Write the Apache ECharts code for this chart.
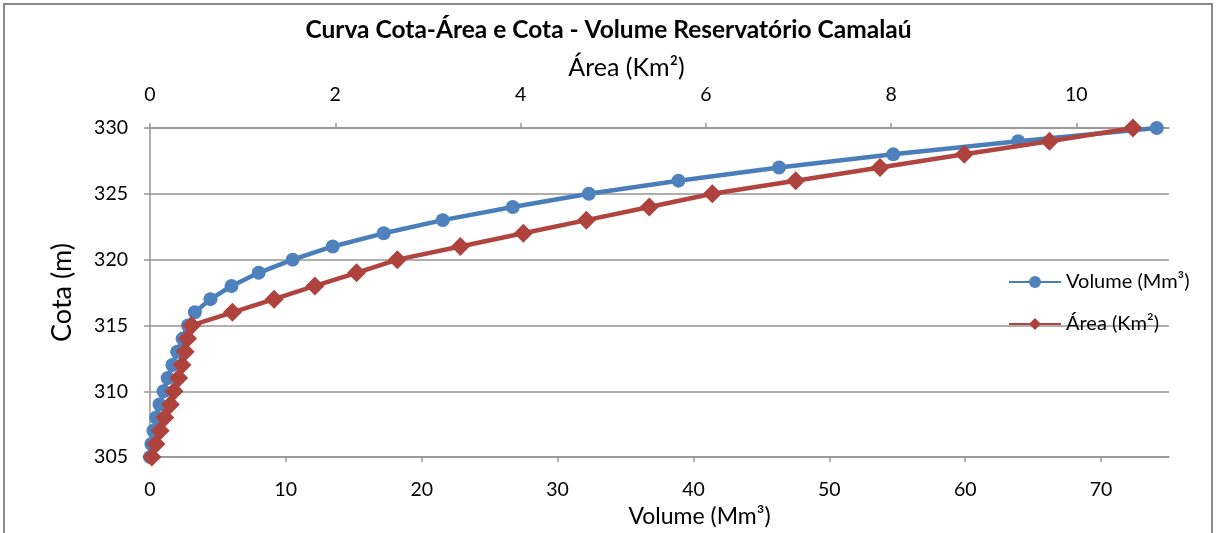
<!DOCTYPE html>
<html>
<head>
<meta charset="utf-8">
<script src="https://cdn.jsdelivr.net/npm/echarts@6/dist/echarts.min.js"></script>
<style>
  html, body { margin: 0; padding: 0; background: #ffffff; }
  #chart { width: 1217px; height: 533px; }
</style>
</head>
<body>
<div id="chart"></div>
<script>
// Reservoir elevation (m) and the matching stored volume and flooded area
const cota = [305, 306, 307, 308, 309, 310, 311, 312, 313, 314, 315, 316, 317,
              318, 319, 320, 321, 322, 323, 324, 325, 326, 327, 328, 329, 330];
const volume = [0, 0.1, 0.25, 0.45, 0.7, 1.0, 1.3, 1.65, 2.0, 2.4, 2.8, 3.3, 4.45,
                6.0, 8.0, 10.5, 13.45, 17.2, 21.55, 26.7, 32.3, 38.9, 46.3, 54.7, 63.9, 74.1];
const area = [0.02, 0.065, 0.11, 0.16, 0.22, 0.26, 0.31, 0.345, 0.38, 0.405, 0.45, 0.89, 1.34,
              1.78, 2.23, 2.67, 3.35, 4.03, 4.71, 5.39, 6.07, 6.97, 7.88, 8.79, 9.71, 10.61];

// Axis ranges
const volumeRange = { min: 0, max: 75, step: 10 };
const areaRange = { min: 0, max: 11, step: 2 };
const cotaRange = { min: 305, max: 330, step: 5 };

const seriesNames = ['Volume (Mm³)', 'Área (Km²)'];

const FONT = 'Lato, "Open Sans", sans-serif';
const GRID_GRAY = '#949494';

const chart = echarts.init(document.getElementById('chart'), null, { renderer: 'canvas' });

const axisLabel = { color: '#000', fontSize: 19.5, fontFamily: FONT, margin: 23, showMaxLabel: false };
const axisName = { color: '#000', fontSize: 24, fontFamily: FONT };

chart.setOption({
  animation: false,
  backgroundColor: '#ffffff',
  title: {
    text: 'Curva Cota-Área e Cota - Volume Reservatório Camalaú',
    left: 'center',
    top: 13,
    textStyle: { color: '#000', fontSize: 24.5, fontWeight: 'bold', fontFamily: FONT }
  },
  graphic: [{
    type: 'rect',
    shape: { x: 4, y: 4, width: 1208, height: 545 },
    style: { fill: null, stroke: '#8a8a8a', lineWidth: 2 },
    silent: true
  }],
  grid: { left: 150, right: 48, top: 128, bottom: 69, containLabel: false },
  legend: {
    orient: 'vertical',
    left: 1003,
    top: 267,
    itemWidth: 52,
    itemHeight: 15,
    itemGap: 22,
    textStyle: { color: '#000', fontSize: 20, fontFamily: FONT },
    data: seriesNames
  },
  xAxis: [{
    type: 'value',
    position: 'bottom',
    min: volumeRange.min, max: volumeRange.max, interval: volumeRange.step,
    name: 'Volume (Mm³)',
    nameLocation: 'middle',
    nameGap: 46,
    nameTextStyle: Object.assign({}, axisName, { fontSize: 23, padding: [0, 0, 0, 80] }),
    axisLine: { show: true, lineStyle: { color: GRID_GRAY, width: 1.5 } },
    axisTick: { show: true, inside: false, length: 5, lineStyle: { color: GRID_GRAY, width: 1.5 } },
    axisLabel: axisLabel,
    splitLine: { show: false }
  }, {
    type: 'value',
    position: 'top',
    min: areaRange.min, max: areaRange.max, interval: areaRange.step,
    name: 'Área (Km²)',
    nameLocation: 'middle',
    nameGap: 40,
    nameTextStyle: Object.assign({}, axisName, { fontSize: 25, padding: [0, 66, 0, 0] }),
    axisLine: { show: true, lineStyle: { color: GRID_GRAY, width: 1.5 } },
    axisTick: { show: true, inside: false, length: 5, lineStyle: { color: GRID_GRAY, width: 1.5 } },
    axisLabel: axisLabel,
    splitLine: { show: false }
  }],
  yAxis: {
    type: 'value',
    min: cotaRange.min, max: cotaRange.max, interval: cotaRange.step,
    name: 'Cota (m)',
    nameLocation: 'middle',
    nameGap: 74,
    nameTextStyle: Object.assign({}, axisName, { fontSize: 27 }),
    axisLine: { show: true, lineStyle: { color: GRID_GRAY, width: 1.5 } },
    axisTick: { show: true, inside: false, length: 6, lineStyle: { color: GRID_GRAY, width: 1.5 } },
    axisLabel: Object.assign({}, axisLabel, { margin: 22, showMaxLabel: true }),
    splitLine: { show: true, lineStyle: { color: GRID_GRAY, width: 1.5 } }
  },
  series: [{
    name: seriesNames[0],
    type: 'line',
    xAxisIndex: 0,
    data: cota.map((c, i) => [volume[i], c]),
    symbol: 'circle',
    symbolSize: 14,
    showAllSymbol: true,
    lineStyle: { color: '#4A7EBB', width: 4.5 },
    itemStyle: { color: '#4F81BD' },
    z: 2
  }, {
    name: seriesNames[1],
    type: 'line',
    xAxisIndex: 1,
    data: cota.map((c, i) => [area[i], c]),
    symbol: 'diamond',
    symbolSize: 19,
    showAllSymbol: true,
    lineStyle: { color: '#B0443F', width: 4.5 },
    itemStyle: { color: '#AE433E' },
    z: 3
  }]
});
</script>
</body>
</html>
